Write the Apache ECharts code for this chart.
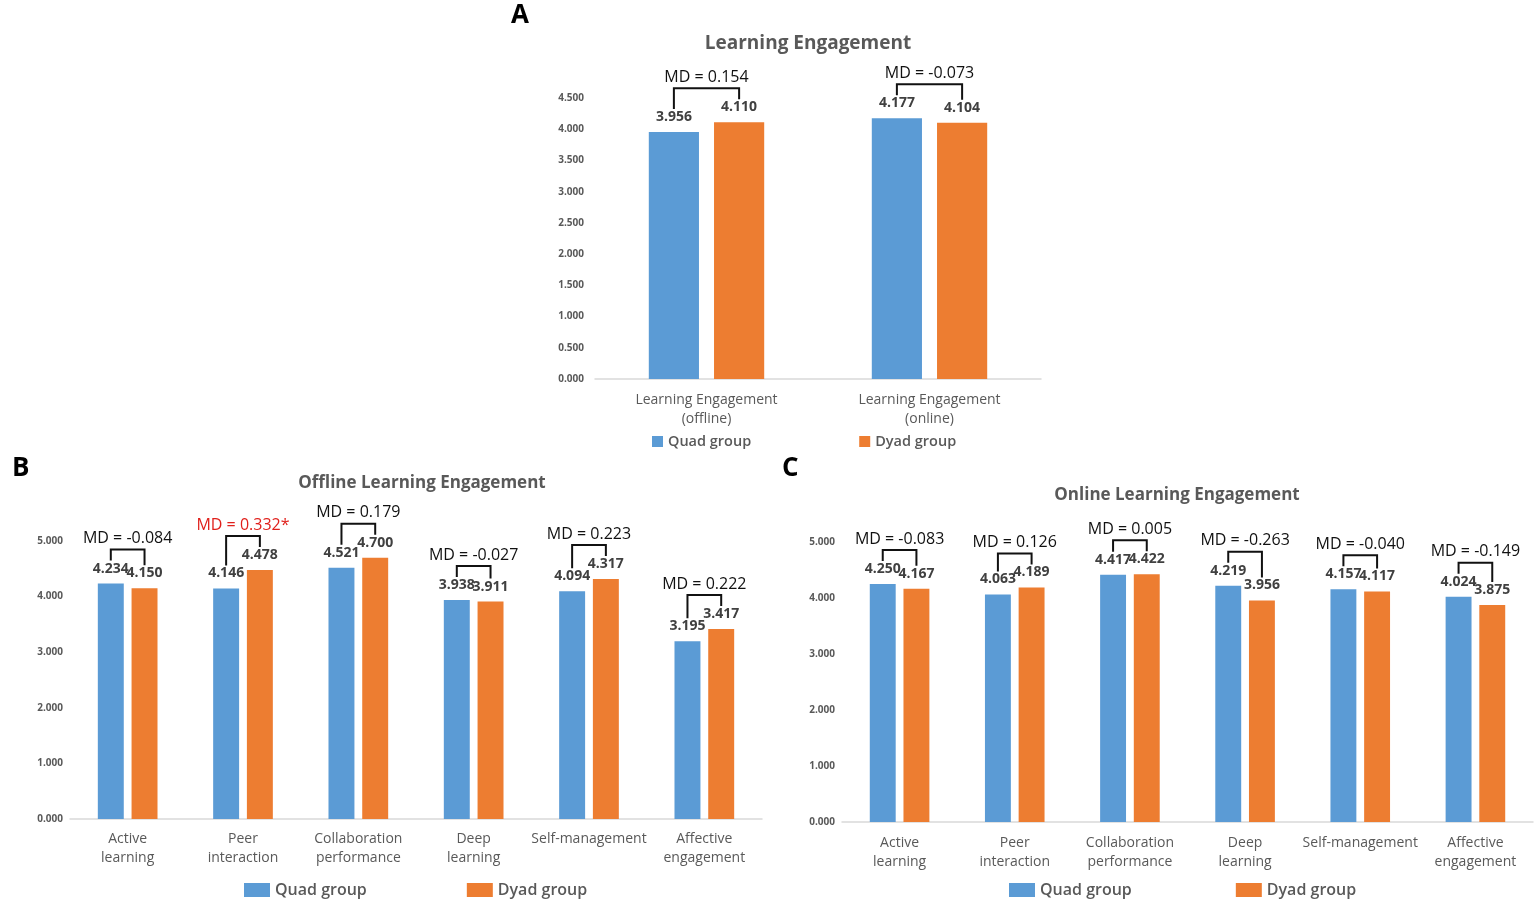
<!DOCTYPE html>
<html>
<head>
<meta charset="utf-8">
<script src="https://cdn.jsdelivr.net/npm/echarts@6/dist/echarts.min.js"></script>
<style>
html,body{margin:0;padding:0;background:#fff;}
#chart{width:1535px;height:906px;}
</style>
</head>
<body>
<div id="chart"></div>
<script>
// ---- Data ----
const catsA = ['Learning Engagement\n(offline)', 'Learning Engagement\n(online)'];
const quadA = [3.956, 4.177];
const dyadA = [4.110, 4.104];
const mdA = ['0.154', '-0.073'];

const catsBC = ['Active\nlearning', 'Peer\ninteraction', 'Collaboration\nperformance', 'Deep\nlearning', 'Self-management', 'Affective\nengagement'];
const quadB = [4.234, 4.146, 4.521, 3.938, 4.094, 3.195];
const dyadB = [4.150, 4.478, 4.700, 3.911, 4.317, 3.417];
const mdB = ['-0.084', '0.332*', '0.179', '-0.027', '0.223', '0.222'];
const sigB = [false, true, false, false, false, false];

const quadC = [4.250, 4.063, 4.417, 4.219, 4.157, 4.024];
const dyadC = [4.167, 4.189, 4.422, 3.956, 4.117, 3.875];
const mdC = ['-0.083', '0.126', '0.005', '-0.263', '-0.040', '-0.149'];
const sigC = [false, false, false, false, false, false];

const BLUE = '#5B9BD5', ORANGE = '#ED7D31', GRAY = '#595959';
const FONT = '"Open Sans", "Noto Sans", sans-serif';
const BW = 0.225, GAP = 0.3;

const chart = echarts.init(document.getElementById('chart'));

function xAxisDef(idx, cats, margin) {
  return {
    type: 'category', gridIndex: idx, data: cats,
    axisLine: {lineStyle: {color: '#d9d9d9', width: 1.5}},
    axisTick: {show: false},
    axisLabel: {color: GRAY, fontSize: 14, fontFamily: FONT, lineHeight: 19, margin: margin, interval: 0}
  };
}
function yAxisDef(idx, max, interval, margin) {
  return {
    type: 'value', gridIndex: idx, min: 0, max: max, interval: interval,
    axisLine: {show: false}, axisTick: {show: false}, splitLine: {show: false},
    axisLabel: {color: GRAY, fontSize: 10, fontWeight: 'bold', fontFamily: FONT, margin: margin,
      formatter: v => v.toFixed(3)}
  };
}
function barSeries(name, idx, data, color) {
  return {
    name: name, type: 'bar', xAxisIndex: idx, yAxisIndex: idx, data: data,
    barWidth: (BW * 100) + '%', barGap: (GAP * 100) + '%',
    itemStyle: {color: color},
    label: {show: true, position: 'top', distance: 8, color: '#404040', fontSize: 14, fontWeight: 'bold',
      fontFamily: FONT, formatter: p => p.value.toFixed(3)}
  };
}
function bracketSeries(idx, quad, dyad, md, sig) {
  return {
    type: 'custom', xAxisIndex: idx, yAxisIndex: idx, silent: true, clip: false, z: 5,
    data: quad.map((q, i) => [i, q, dyad[i]]),
    renderItem: function (params, api) {
      const i = params.dataIndex;
      const cat = api.value(0), q = api.value(1), d = api.value(2);
      const pq = api.coord([cat, q]), pd = api.coord([cat, d]);
      const band = api.size([1, 0])[0];
      const off = band * BW * (1 + GAP) / 2;
      const xL = pq[0] - off, xR = pd[0] + off;
      const yL = pq[1] - 23, yR = pd[1] - 23;
      const yH = Math.min(pq[1], pd[1]) - 34;
      return {
        type: 'group',
        children: [
          {type: 'polyline', shape: {points: [[xL, yL], [xL, yH], [xR, yH], [xR, yR]]},
            style: {stroke: '#111', lineWidth: 2, fill: null}},
          {type: 'text', style: {text: 'MD = ' + md[i], x: (xL + xR) / 2, y: yH - 3,
            textAlign: 'center', textVerticalAlign: 'bottom',
            fill: (sig && sig[i]) ? '#E0201B' : '#111', font: '16px ' + FONT}}
        ]
      };
    }
  };
}
function legendDef(left, top, w, h, fs, gap) {
  return {
    left: left, top: top, padding: 0, itemWidth: w, itemHeight: h, itemGap: gap, icon: 'rect',
    data: ['Quad group', 'Dyad group'], selectedMode: false,
    textStyle: {color: GRAY, fontSize: fs, fontFamily: FONT, fontWeight: 600}
  };
}

const option = {
  animation: false,
  backgroundColor: '#fff',
  grid: [
    {left: 595, top: 98, width: 446, height: 281},
    {left: 70, top: 541, width: 692, height: 278},
    {left: 842, top: 542, width: 691, height: 280}
  ],
  xAxis: [xAxisDef(0, catsA, 12), xAxisDef(1, catsBC, 11), xAxisDef(2, catsBC, 12)],
  yAxis: [yAxisDef(0, 4.5, 0.5, 11), yAxisDef(1, 5, 1, 7), yAxisDef(2, 5, 1, 7)],
  legend: [
    legendDef(652, 434, 11, 11, 14.5, 108),
    legendDef(244, 882, 26, 14, 16, 100),
    legendDef(1009, 882, 26, 14, 16, 104)
  ],
  graphic: [
    {type: 'text', left: 511, top: 3, style: {text: 'A', font: 'bold 26px ' + FONT, fill: '#000'}},
    {type: 'text', left: 12, top: 456, style: {text: 'B', font: 'bold 26px ' + FONT, fill: '#000'}},
    {type: 'text', left: 782, top: 456, style: {text: 'C', font: 'bold 26px ' + FONT, fill: '#000'}},
    {type: 'text', x: 808, y: 44, style: {text: 'Learning Engagement', font: 'bold 19px ' + FONT, fill: GRAY, textAlign: 'center', textVerticalAlign: 'middle'}},
    {type: 'text', x: 422, y: 483, style: {text: 'Offline Learning Engagement', font: 'bold 17px ' + FONT, fill: GRAY, textAlign: 'center', textVerticalAlign: 'middle'}},
    {type: 'text', x: 1177, y: 495, style: {text: 'Online Learning Engagement', font: 'bold 17px ' + FONT, fill: GRAY, textAlign: 'center', textVerticalAlign: 'middle'}}
  ],
  series: [
    barSeries('Quad group', 0, quadA, BLUE),
    barSeries('Dyad group', 0, dyadA, ORANGE),
    barSeries('Quad group', 1, quadB, BLUE),
    barSeries('Dyad group', 1, dyadB, ORANGE),
    barSeries('Quad group', 2, quadC, BLUE),
    barSeries('Dyad group', 2, dyadC, ORANGE),
    bracketSeries(0, quadA, dyadA, mdA, null),
    bracketSeries(1, quadB, dyadB, mdB, sigB),
    bracketSeries(2, quadC, dyadC, mdC, sigC)
  ]
};
chart.setOption(option);
</script>
</body>
</html>
